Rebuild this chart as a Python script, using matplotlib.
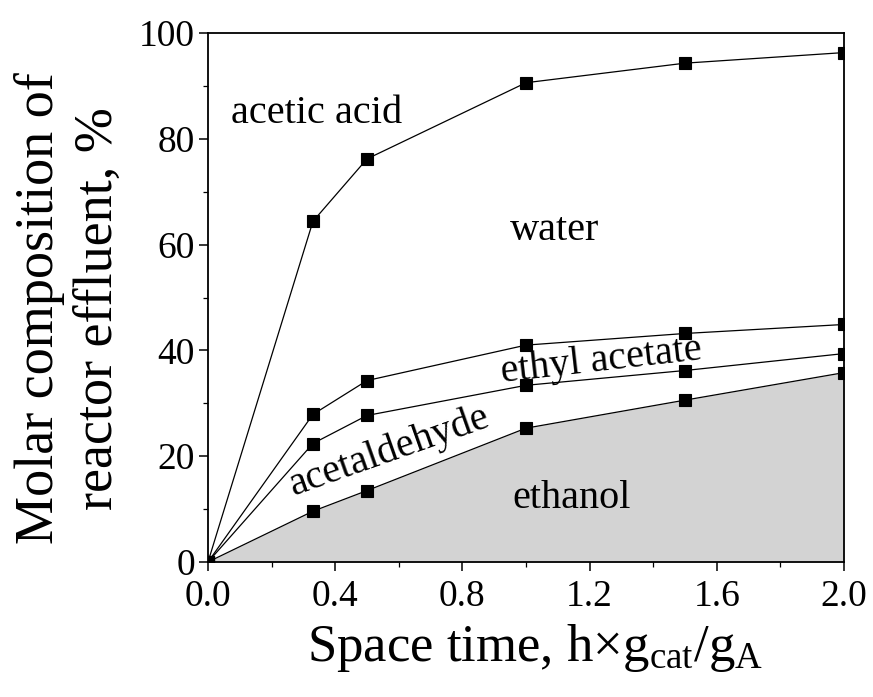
import numpy as np
import matplotlib
matplotlib.use("Agg")
import matplotlib.pyplot as plt
from matplotlib.ticker import MultipleLocator, FormatStrFormatter

plt.rcParams['font.family'] = ['Liberation Serif', 'DejaVu Serif']
plt.rcParams['mathtext.fontset'] = 'custom'
plt.rcParams['mathtext.rm'] = 'Liberation Serif'
plt.rcParams['mathtext.it'] = 'Liberation Serif:italic'

# space time, h x gcat/gA
space_time = [0.0, 0.33, 0.5, 1.0, 1.5, 2.0]
# cumulative molar composition, %
ethanol = [0.0, 9.6, 13.5, 25.3, 30.6, 35.8]
acetaldehyde = [0.0, 22.4, 27.7, 33.4, 36.2, 39.4]
ethyl_acetate = [0.0, 27.9, 34.3, 41.0, 43.2, 44.9]
water = [0.0, 64.4, 76.2, 90.6, 94.3, 96.3]

fig = plt.figure(figsize=(8.73, 6.97), dpi=100)
ax = fig.add_axes([208/873, 1 - 562/697, 636/873, 529/697])

ax.fill_between(space_time, 0, ethanol, color='#d3d3d3', lw=0, zorder=1)
for series in [ethanol, acetaldehyde, ethyl_acetate, water]:
    ax.plot(space_time, series, color='black', lw=0.9, marker='s', ms=8.5,
            mfc='black', mec='black', mew=0.8, zorder=3)

ax.set_xlim(0, 2.0)
ax.set_ylim(0, 100)
ax.xaxis.set_major_locator(MultipleLocator(0.4))
ax.xaxis.set_minor_locator(MultipleLocator(0.2))
ax.yaxis.set_major_locator(MultipleLocator(20))
ax.yaxis.set_minor_locator(MultipleLocator(10))
ax.tick_params(which='major', direction='out', length=6.5, width=1.1, labelsize=27, pad=3)
ax.tick_params(axis='x', which='major', pad=6)
ax.tick_params(which='minor', direction='out', length=3.8, width=0.9)
ax.xaxis.set_major_formatter(FormatStrFormatter('%.1f'))
for s in ax.spines.values():
    s.set_linewidth(1.3)

ax.set_xlabel(r'Space time, h$\times$g$_{\mathrm{cat}}$/g$_{\mathrm{A}}$', fontsize=38, labelpad=6)
ax.xaxis.label.set_x(0.514)
ax.set_ylabel('Molar composition of\nreactor effluent, %', fontsize=39, linespacing=1.22)
ax.yaxis.set_label_coords(-0.132, 0.48)

ax.text(0.34, 84.8, 'acetic acid', fontsize=29, ha='center', va='center')
ax.text(1.09, 62.6, 'water', fontsize=29, ha='center', va='center')
ax.text(1.143, 12.0, 'ethanol', fontsize=29, ha='center', va='center')
ax.text(1.237, 38.0, 'ethyl acetate', fontsize=29, ha='center', va='center',
        rotation=6.5, rotation_mode='anchor')
ax.text(0.57, 21.0, 'acetaldehyde', fontsize=29, ha='center', va='center',
        rotation=19.5, rotation_mode='anchor')

fig.savefig('out.png', dpi=100)
